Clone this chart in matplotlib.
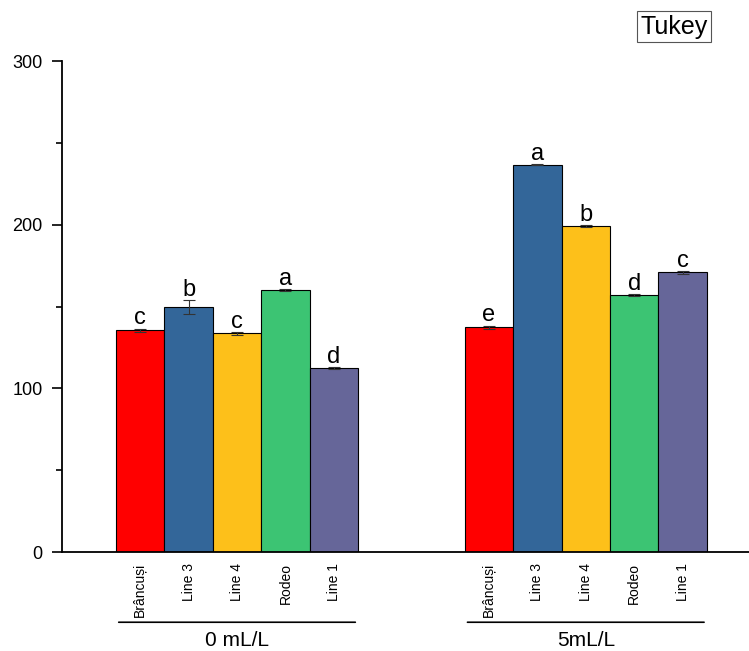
import numpy as np
import matplotlib
matplotlib.use("Agg")
import matplotlib.pyplot as plt
from matplotlib.ticker import MultipleLocator

plt.rcParams['font.family'] = ['Liberation Sans', 'DejaVu Sans']

cultivars = ['Brâncuși', 'Line 3', 'Line 4', 'Rodeo', 'Line 1']
groups = ['0 mL/L', '5mL/L']
means_0 = [135.6, 149.7, 133.6, 159.9, 112.4]
errs_0 = [1.0, 4.3, 0.8, 0.6, 0.6]
letters_0 = ['c', 'b', 'c', 'a', 'd']
means_5 = [137.4, 236.8, 199.1, 157.0, 171.0]
errs_5 = [1.0, 0.5, 0.5, 0.6, 0.8]
letters_5 = ['e', 'a', 'b', 'd', 'c']
colors = ['#FF0000', '#336699', '#FDC01A', '#3CC473', '#666699']

fig = plt.figure(figsize=(7.49, 6.51), dpi=100)
ax = fig.add_axes([0.083, 0.152, 0.917, 0.754])

offset = 7.2
x0 = np.arange(len(cultivars))
x5 = x0 + offset

for xs, means, errs, letters in [(x0, means_0, errs_0, letters_0),
                                 (x5, means_5, errs_5, letters_5)]:
    ax.bar(xs, means, width=1.0, color=colors, edgecolor='black', linewidth=0.8)
    ax.errorbar(xs, means, yerr=errs, fmt='none', ecolor='#333333',
                elinewidth=0.8, capsize=4, capthick=0.8)
    # Tukey letters sit just above each error bar
    for x, m, e, l in zip(xs, means, errs, letters):
        ax.annotate(l, (x, m + e), xytext=(0, 3), textcoords='offset points',
                    ha='center', va='baseline', fontsize=17)

ax.set_xlim(-1.61, 12.57)
ax.set_ylim(0, 300)
ax.yaxis.set_major_locator(MultipleLocator(100))
ax.yaxis.set_minor_locator(MultipleLocator(50))
ax.tick_params(axis='y', which='major', direction='out', length=7, width=1.2,
               labelsize=13, pad=7)
ax.tick_params(axis='y', which='minor', direction='out', length=4, width=1.2)
ax.spines['top'].set_visible(False)
ax.spines['right'].set_visible(False)
ax.spines['left'].set_linewidth(1.3)
ax.spines['bottom'].set_linewidth(1.3)

ax.set_xticks(np.concatenate([x0, x5]))
ax.set_xticklabels(cultivars * 2, rotation=90, fontsize=10)
ax.tick_params(axis='x', length=0, pad=8)

# group brackets under the cultivar labels
for xs, g in zip([x0, x5], groups):
    ax.annotate('', xy=(xs[0] - 0.5, -0.143), xytext=(xs[-1] + 0.5, -0.143),
                xycoords=('data', 'axes fraction'),
                arrowprops=dict(arrowstyle='-', color='black', lw=1.2))
    ax.text(xs.mean(), -0.18, g, transform=ax.get_xaxis_transform(),
            ha='center', va='center', fontsize=15)

fig.text(0.9, 0.959, 'Tukey', ha='center', va='center', fontsize=18,
         bbox=dict(boxstyle='square,pad=0.15', facecolor='white', edgecolor='#555555', lw=0.8))

fig.savefig('out.png', dpi=100)
